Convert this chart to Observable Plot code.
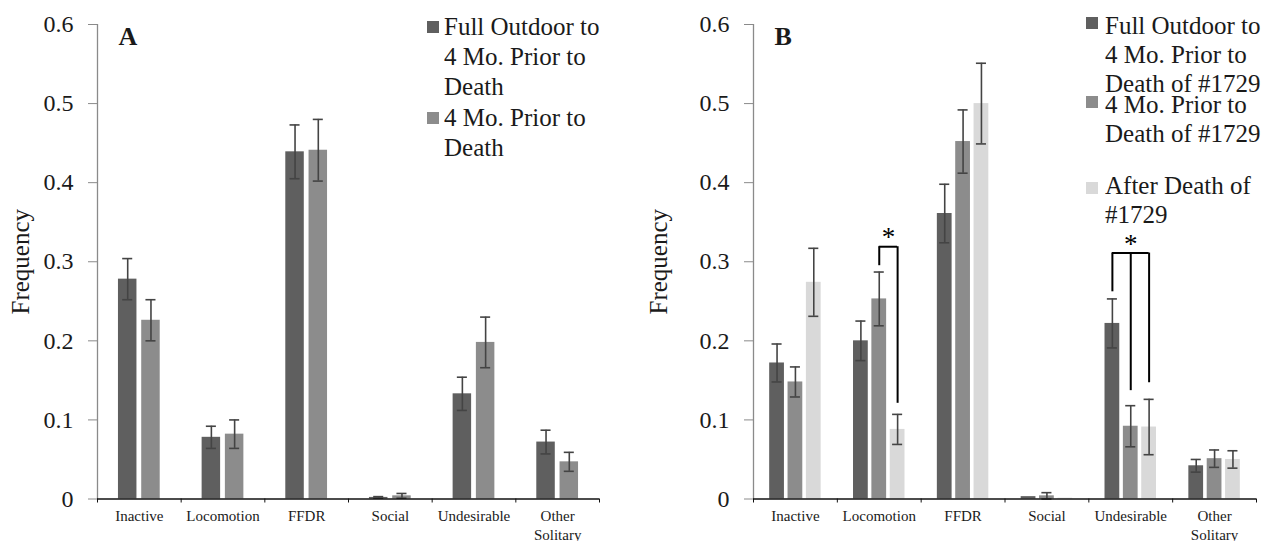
<!DOCTYPE html>
<html><head><meta charset="utf-8">
<script src="https://cdn.jsdelivr.net/npm/d3@7"></script>
<script src="https://cdn.jsdelivr.net/npm/@observablehq/plot@0.6"></script>
<style>
body{margin:0;background:#fff;font-family:"Liberation Serif",serif;}
#wrap{position:relative;width:1277px;height:541px;display:flex;font-family:"Liberation Serif",serif;color:#1a1a1a;}
.leg{position:absolute;font-family:"Liberation Serif",serif;font-size:25px;white-space:nowrap;color:#1a1a1a;}
.sw{position:absolute;width:12px;height:12px;}
</style></head><body><div id="wrap"></div>
<script>
// ---------- data ----------
const categories = ["Inactive", "Locomotion", "FFDR", "Social", "Undesirable", "Other\nSolitary"];
const yTicks = [0, 0.1, 0.2, 0.3, 0.4, 0.5, 0.6];

// Panel A
const seriesA = ["Full Outdoor to 4 Mo. Prior to Death", "4 Mo. Prior to Death"];
const aFullToPrior      = [0.278, 0.078, 0.439, 0.002, 0.133, 0.072];
const aFullToPriorErr   = [0.026, 0.014, 0.034, 0.001, 0.021, 0.015];
const aPriorToDeath     = [0.226, 0.082, 0.441, 0.004, 0.198, 0.047];
const aPriorToDeathErr  = [0.026, 0.018, 0.039, 0.003, 0.032, 0.012];

// Panel B
const seriesB = ["Full Outdoor to 4 Mo. Prior to Death of #1729", "4 Mo. Prior to Death of #1729", "After Death of #1729"];
const bFullToPrior      = [0.172, 0.200, 0.361, 0.003, 0.222, 0.042];
const bFullToPriorErr   = [0.024, 0.025, 0.037, 0.000, 0.031, 0.008];
const bPriorToDeath     = [0.148, 0.253, 0.452, 0.004, 0.092, 0.051];
const bPriorToDeathErr  = [0.019, 0.034, 0.040, 0.004, 0.026, 0.011];
const bAfterDeath       = [0.274, 0.088, 0.500, 0.001, 0.091, 0.050];
const bAfterDeathErr    = [0.043, 0.019, 0.051, 0.000, 0.035, 0.011];

// significance brackets (panel B)
const bracketCategory = ["Locomotion", "Undesirable"];
const bracketSeries   = [[1, 2], [0, 1, 2]];
const bracketTop      = [0.319, 0.311];
const bracketLegEnd   = [[0.295, 0.121], [0.262, 0.137, 0.147]];
const bracketLabel    = ["*", "*"];

const colors = ["#5f5f5f", "#8c8c8c", "#d9d9d9"];
const serif = "'Liberation Serif', serif";

// ---------- helpers ----------
function rowsOf(seriesNames, values, errs) {
  const rows = [];
  seriesNames.forEach((s, si) => {
    categories.forEach((c, ci) => {
      rows.push({series: s, si, cat: c, ci, value: values[si][ci], err: errs[si][ci]});
    });
  });
  return rows;
}

function panel({rows, seriesNames, width, marginLeft, marginRight, step, barW, cap, letter, brackets}) {
  const n = seriesNames.length;
  const cx = (ci, si) => ci + 0.5 + (si - (n - 1) / 2) * step;
  const X = d => cx(d.ci, d.si);
  const errRows = rows.filter(d => d.err > 0);
  const boundaries = d3.range(categories.length + 1);
  const centers = categories.map((c, i) => i + 0.5);
  const marks = [
    Plot.rect(rows, {x1: d => X(d) - barW / 2, x2: d => X(d) + barW / 2, y1: d => 0, y2: "value", fill: "series"}),
    Plot.ruleX(errRows, {x: X, y1: d => d.value - d.err, y2: d => d.value + d.err, stroke: "#444", strokeWidth: 1.6}),
    Plot.ruleY(errRows, {y: d => d.value + d.err, x1: d => X(d) - cap, x2: d => X(d) + cap, stroke: "#444", strokeWidth: 1.6}),
    Plot.ruleY(errRows, {y: d => d.value - d.err, x1: d => X(d) - cap, x2: d => X(d) + cap, stroke: "#444", strokeWidth: 1.6}),
    Plot.ruleX([0], {stroke: "#8a8a8a", strokeWidth: 1.3}),
    Plot.ruleY([0], {stroke: "#111", strokeWidth: 1.3}),
    Plot.axisY({ticks: yTicks, tickFormat: d => String(d), tickSize: 9, tickPadding: 15, fontSize: 24, stroke: "#8a8a8a", label: null}),
    Plot.axisX({ticks: boundaries, tickSize: 4, tickFormat: () => "", stroke: "#111", label: null}),
    Plot.axisX({ticks: centers, tickSize: 0, tickPadding: 9, tickFormat: v => categories[Math.floor(v)], fontSize: 15, lineHeight: 1.25, label: null}),
    Plot.text(["Frequency"], {frameAnchor: "left", rotate: -90, textAnchor: "middle", dx: -(marginLeft - 20), fontSize: 25, text: d => d}),
    Plot.text([letter], {frameAnchor: "top-left", dx: 21, dy: 2, fontSize: 26, fontWeight: "bold", textAnchor: "start", text: d => d})
  ];
  if (brackets) {
    const tops = [], legs = [], labels = [];
    brackets.cats.forEach((c, k) => {
      const ci = categories.indexOf(c);
      const ss = brackets.series[k];
      tops.push({x1: cx(ci, ss[0]), x2: cx(ci, ss[ss.length - 1]), y: brackets.top[k]});
      ss.forEach((si, j) => legs.push({x: cx(ci, si), y1: brackets.legEnd[k][j], y2: brackets.top[k]}));
      labels.push({x: (cx(ci, ss[0]) + cx(ci, ss[ss.length - 1])) / 2, y: brackets.top[k], label: brackets.label[k]});
    });
    marks.push(
      Plot.ruleY(tops, {y: "y", x1: "x1", x2: "x2", stroke: "#000", strokeWidth: 2}),
      Plot.ruleX(legs, {x: "x", y1: "y1", y2: "y2", stroke: "#000", strokeWidth: 2}),
      Plot.text(labels, {x: "x", y: "y", text: "label", fontSize: 27, dy: -9, fill: "#000"})
    );
  }
  return Plot.plot({
    width, height: 541, marginTop: 24, marginBottom: 42.5, marginLeft, marginRight,
    style: {fontFamily: serif, background: "white", color: "#1a1a1a", overflow: "visible"},
    x: {type: "linear", domain: [0, categories.length], axis: null},
    y: {domain: [0, 0.6], axis: null},
    color: {domain: seriesNames, range: colors.slice(0, n)},
    marks
  });
}

const wrap = document.getElementById("wrap");
const rowsA = rowsOf(seriesA, [aFullToPrior, aPriorToDeath], [aFullToPriorErr, aPriorToDeathErr]);
const rowsB = rowsOf(seriesB, [bFullToPrior, bPriorToDeath, bAfterDeath], [bFullToPriorErr, bPriorToDeathErr, bAfterDeathErr]);

wrap.appendChild(panel({rows: rowsA, seriesNames: seriesA, width: 638, marginLeft: 97, marginRight: 39,
  step: 0.278, barW: 0.221, cap: 0.06, letter: "A"}));
wrap.appendChild(panel({rows: rowsB, seriesNames: seriesB, width: 639, marginLeft: 115, marginRight: 21,
  step: 0.219, barW: 0.176, cap: 0.06, letter: "B",
  brackets: {cats: bracketCategory, series: bracketSeries, top: bracketTop, legEnd: bracketLegEnd, label: bracketLabel}}));

// ---------- legends (HTML overlay) ----------
const legendA = [
  {lines: ["Full Outdoor to", "4 Mo. Prior to", "Death"], sw: [427, 21], tx: [444, 12], lh: 30},
  {lines: ["4 Mo. Prior to", "Death"], sw: [427, 112], tx: [444, 103], lh: 30}
];
const legendB = [
  {lines: ["Full Outdoor to", "4 Mo. Prior to", "Death of #1729"], sw: [1086, 17], tx: [1105, 10.5], lh: 29},
  {lines: ["4 Mo. Prior to", "Death of #1729"], sw: [1086, 96], tx: [1105, 89.5], lh: 29},
  {lines: ["After Death of", "#1729"], sw: [1086, 182], tx: [1105, 170.5], lh: 29}
];
function drawLegend(items) {
  items.forEach((it, i) => {
    const sw = document.createElement("div");
    sw.className = "sw";
    sw.style.left = it.sw[0] + "px"; sw.style.top = it.sw[1] + "px"; sw.style.background = colors[i];
    wrap.appendChild(sw);
    const t = document.createElement("div");
    t.className = "leg";
    t.style.left = it.tx[0] + "px"; t.style.top = it.tx[1] + "px"; t.style.lineHeight = it.lh + "px";
    t.innerHTML = it.lines.join("<br>");
    wrap.appendChild(t);
  });
}
drawLegend(legendA);
drawLegend(legendB);
</script></body></html>
